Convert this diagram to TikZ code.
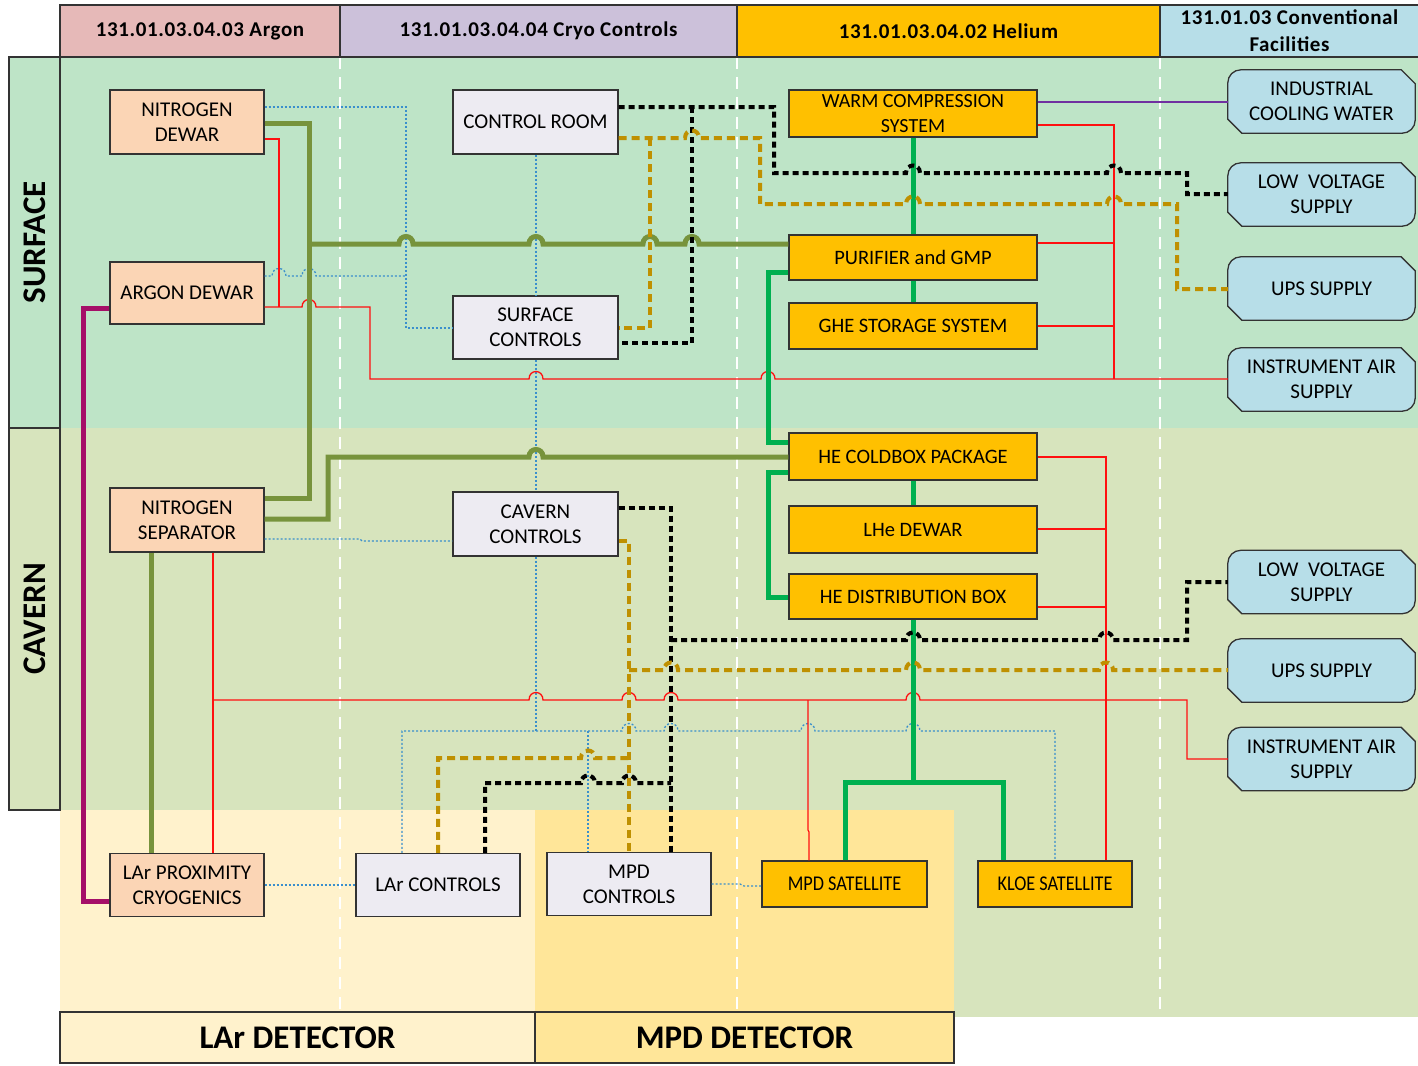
\documentclass[tikz,border=0pt]{standalone}
\usepackage{fontspec}
\setmainfont{Carlito}
\usetikzlibrary{calc}
\definecolor{argc}{HTML}{E6B9B8}
\definecolor{cryc}{HTML}{CCC1DA}
\definecolor{hec}{HTML}{FFC000}
\definecolor{convc}{HTML}{B7DEE8}
\definecolor{surfc}{HTML}{BEE4C7}
\definecolor{cavc}{HTML}{D7E4BD}
\definecolor{larc}{HTML}{FFF2CC}
\definecolor{mpdc}{HTML}{FFE699}
\definecolor{peachc}{HTML}{FBD5B5}
\definecolor{ctlc}{HTML}{EDEBF2}
\definecolor{olivec}{HTML}{77933C}
\definecolor{grnc}{HTML}{00B050}
\definecolor{magc}{HTML}{A50F68}
\definecolor{goldc}{HTML}{BF9000}
\definecolor{redc}{HTML}{FF1010}
\definecolor{bluec}{HTML}{3A8FCC}
\definecolor{purpc}{HTML}{7030A0}
\definecolor{edgec}{HTML}{333333}
\pgfdeclarelayer{back}
\pgfdeclarelayer{mid}
\pgfsetlayers{back,mid,main}
\newcommand\boxfont{\fontsize{21}{25}\selectfont}
\newcommand\hopr[2]{-- ({#1-7},#2) .. controls ({#1-7},{#2-10}) and ({#1+7},{#2-10}) .. ({#1+7},#2)}
\newcommand\supshape[1]{\draw[supply] ([xshift=14pt]#1.south west) -- ([yshift=14pt]#1.south west) [rounded corners=13pt] -- (#1.north west) [sharp corners] -- ([xshift=-14pt]#1.north east) -- ([yshift=-14pt]#1.north east) [rounded corners=13pt] -- (#1.south east) [sharp corners] -- cycle;}
\tikzset{
  box/.style={draw=edgec, line width=1.3pt, inner sep=0pt, align=center, font=\boxfont},
  argbox/.style={box, fill=peachc, minimum width=154pt, minimum height=63pt},
  ctlbox/.style={box, fill=ctlc, minimum width=165pt, minimum height=63pt},
  hebox/.style={box, fill=hec, minimum width=248pt, minimum height=46pt},
  satbox/.style={box, fill=hec, minimum height=46pt, font={\fontsize{21}{25}\selectfont\addfontfeature{FakeStretch=0.87}}},
  suptext/.style={inner sep=0pt, minimum width=187pt, minimum height=63pt, align=center, font=\boxfont},
  supply/.style={draw=edgec, line width=1.3pt, fill=convc},
  hdr/.style={draw=edgec, line width=1.3pt, minimum height=52pt, inner sep=0pt, align=center,
    font={\bfseries\fontsize{21}{27}\selectfont\addfontfeature{LetterSpace=3}}},
  side/.style={draw=edgec, line width=1.3pt, minimum height=51pt, inner sep=0pt,
    font={\bfseries\fontsize{33}{36}\selectfont}},
  bottomlbl/.style={draw=edgec, line width=1.3pt, minimum height=51pt, inner sep=0pt,
    font={\bfseries\fontsize{33}{36}\selectfont}},
  divider/.style={draw=white, line width=1.5pt, dash pattern=on 12pt off 8pt},
  olive/.style={draw=olivec, line width=5pt},
  grn/.style={draw=grnc, line width=5pt},
  mag/.style={draw=magc, line width=5pt},
  redline/.style={draw=redc, line width=1.3pt},
  bluedot/.style={draw=bluec, line width=1.3pt, dash pattern=on 2pt off 2pt},
  blk/.style={draw=black, line width=4pt, dash pattern=on 6pt off 4pt},
  gold/.style={draw=goldc, line width=4pt, dash pattern=on 8pt off 5pt},
  purp/.style={draw=purpc, line width=1.2pt}
}
\begin{document}
\begin{tikzpicture}[x=1pt,y=-1pt]
\useasboundingbox (0,0) rectangle (1418,1065);
\begin{pgfonlayer}{back}
  \fill[white] (0,0) rectangle (1418,1065);
  \fill[surfc] (60,57) rectangle (1418,428);
  \fill[cavc] (60,428) rectangle (1418,1017);
  \fill[larc] (60,810) rectangle (535,1012);
  \fill[mpdc] (535,810) rectangle (954,1012);
  \draw[divider] (340,57) -- (340,1010);
  \draw[divider] (737,57) -- (737,1010);
  \draw[divider] (1160,57) -- (1160,1017);
\end{pgfonlayer}

% headers
\node[hdr, fill=argc, minimum width=280pt] (h1) at (200,31) {131.01.03.04.03 Argon};
\node[hdr, fill=cryc, minimum width=397pt] (h2) at (538.5,31) {131.01.03.04.04 Cryo Controls};
\node[hdr, fill=hec, minimum width=423pt] (h3) at (948.5,31) {131.01.03.04.02 Helium};
\node[hdr, fill=convc, minimum width=259pt] (h4) at (1289.5,31) {131.01.03 Conventional\\Facilities};

% side labels
\node[side, fill=surfc, minimum width=371pt, rotate=90] (sl) at (34.5,242.5) {SURFACE};
\node[side, fill=cavc, minimum width=382pt, rotate=90] (cl) at (34.5,619) {CAVERN};

% bottom labels
\node[bottomlbl, fill=larc, minimum width=475pt] (bl1) at (297.5,1037.5) {LAr DETECTOR};
\node[bottomlbl, fill=mpdc, minimum width=419pt] (bl2) at (744.5,1037.5) {MPD DETECTOR};

% argon boxes
\node[argbox, minimum height=64pt] (nd) at (187,122) {NITROGEN\\DEWAR};
\node[argbox, minimum height=62pt] (ad) at (187,293) {ARGON DEWAR};
\node[argbox, minimum height=64pt] (ns) at (187,520) {NITROGEN\\SEPARATOR};
\node[argbox] (lp) at (187,885) {LAr PROXIMITY\\CRYOGENICS};

% control boxes
\node[ctlbox, minimum height=64pt] (cr) at (535.5,122) {CONTROL ROOM};
\node[ctlbox] (sc) at (535.5,327.5) {SURFACE\\CONTROLS};
\node[ctlbox, minimum height=64pt] (cc) at (535.5,524) {CAVERN\\CONTROLS};
\node[ctlbox, minimum width=164pt] (lc) at (438,885) {LAr CONTROLS};
\node[ctlbox, minimum width=164pt] (mc) at (629,884) {MPD\\CONTROLS};

% helium boxes
\node[hebox, minimum height=47pt] (wc) at (913,113.5) {};
\node[inner sep=0pt, align=center, font=\fontsize{20}{25}\selectfont] (wct) at (wc.center) {WARM COMPRESSION\\SYSTEM};
\node[hebox, minimum height=45pt, font=\fontsize{20.5}{25}\selectfont] (pg) at (913,257.5) {PURIFIER and GMP};
\node[hebox, font=\fontsize{20.5}{25}\selectfont] (gs) at (913,326) {GHE STORAGE SYSTEM};
\node[hebox, minimum height=47pt, font=\fontsize{20.5}{25}\selectfont] (hc) at (913,456.5) {HE COLDBOX PACKAGE};
\node[hebox, minimum height=47pt, font=\fontsize{20.5}{25}\selectfont] (ld) at (913,529.5) {LHe DEWAR};
\node[hebox, minimum height=45pt, font=\fontsize{20.5}{25}\selectfont] (hd) at (913,596.5) {HE DISTRIBUTION BOX};
\node[satbox, minimum width=165pt] (ms) at (844.5,884) {MPD SATELLITE};
\node[satbox, minimum width=154pt] (ks) at (1055,884) {KLOE SATELLITE};

% supplies
\node[suptext] (icw) at (1321.5,101.5) {INDUSTRIAL\\COOLING WATER};
\node[suptext] (lv1) at (1321.5,194.5) {LOW~ VOLTAGE\\SUPPLY};
\node[suptext] (ups1) at (1321.5,288.5) {UPS SUPPLY};
\node[suptext] (ia1) at (1321.5,379.5) {INSTRUMENT AIR\\SUPPLY};
\node[suptext] (lv2) at (1321.5,582) {LOW~ VOLTAGE\\SUPPLY};
\node[suptext] (ups2) at (1321.5,670.5) {UPS SUPPLY};
\node[suptext] (ia2) at (1321.5,759) {INSTRUMENT AIR\\SUPPLY};
\begin{pgfonlayer}{mid}
  \supshape{icw}
  \supshape{lv1}
  \supshape{ups1}
  \supshape{ia1}
  \supshape{lv2}
  \supshape{ups2}
  \supshape{ia2}
\end{pgfonlayer}

% blue dotted
\draw[bluedot] (nd.east |- 0,107) -- (406,107) -- (406,328) -- (sc.west |- 0,328);
\draw[bluedot] (ad.east |- 0,276) \hopr{279}{276} \hopr{309}{276} -- (406,276);
\draw[bluedot] (cr.south -| 536,0) -- (sc.north -| 536,0);
\draw[bluedot] (sc.south -| 536,0) -- (cc.north -| 536,0);
\draw[bluedot] (ns.east |- 0,539) -- (360,539) -- (362,541) -- (cc.west |- 0,541);
\draw[bluedot] (cc.south -| 536,0) -- (536,731);
\draw[bluedot] (lc.north -| 402,0) -- (402,731) \hopr{629}{731} \hopr{671}{731} \hopr{808}{731} \hopr{913}{731} -- (1055,731) -- (ks.north -| 1055,0);
\draw[bluedot] (588,731) -- (mc.north -| 588,0);
\draw[bluedot] (lp.east |- 0,885) -- (lc.west |- 0,885);
\draw[bluedot] (mc.east |- 0,884) -- (740,884) -- (744,886) -- (ms.west |- 0,886);

% red
\draw[redline] (nd.east |- 0,139) -- (279,139) -- (279,307);
\draw[redline] (ad.east |- 0,307) \hopr{309}{307} -- (370,307) -- (370,379) \hopr{536}{379} \hopr{768}{379} -- (ia1.west |- 0,379);
\draw[redline] (wc.east |- 0,125) -- (1114,125) -- (1114,379);
\draw[redline] (pg.east |- 0,243) -- (1114,243);
\draw[redline] (gs.east |- 0,326) -- (1114,326);
\draw[redline] (hc.east |- 0,457) -- (1106,457) -- (ks.north -| 1106,0);
\draw[redline] (ld.east |- 0,529) -- (1106,529);
\draw[redline] (hd.east |- 0,607) -- (1106,607);
\draw[redline] (ns.south -| 213,0) -- (lp.north -| 213,0);
\draw[redline] (213,700) \hopr{536}{700} \hopr{629}{700} \hopr{671}{700} \hopr{913}{700} -- (1187,700) -- (1187,759) -- (ia2.west |- 0,759);
\draw[redline] (808,700) -- (808,830) -- (809,832) -- (ms.north -| 809,0);

% purple
\draw[purp] (wc.east |- 0,102) -- (icw.west |- 0,102);

% olive
\draw[olive] (nd.east |- 0,123) -- (309,123) -- (309,498) -- (ns.east |- 0,498);
\draw[olive] (309,244) \hopr{406}{244} \hopr{536}{244} \hopr{650}{244} \hopr{692}{244} -- (pg.west |- 0,244);
\draw[olive] (ns.east |- 0,519) -- (328,519) -- (328,457) \hopr{536}{457} -- (hc.west |- 0,457);
\draw[olive] (ns.south -| 151,0) -- (lp.north -| 151,0);

% magenta
\draw[mag] (ad.west |- 0,308) -- (83,308) -- (83,901) -- (lp.west |- 0,901);

% bright green
\draw[grn] (wc.south -| 913,0) -- (pg.north -| 913,0);
\draw[grn] (pg.south -| 913,0) -- (gs.north -| 913,0);
\draw[grn] (pg.west |- 0,272) -- (768,272) -- (768,442) -- (hc.west |- 0,442);
\draw[grn] (hc.south -| 913,0) -- (ld.north -| 913,0);
\draw[grn] (hc.west |- 0,472) -- (768,472) -- (768,597) -- (hd.west |- 0,597);
\draw[grn] (hd.south -| 913,0) -- (913,782);
\draw[grn] (ms.north -| 845,0) -- (845,782) -- (1003,782) -- (ks.north -| 1003,0);

% black dashed
\draw[blk] (cr.east |- 0,107) -- (774,107) -- (774,173) \hopr{913}{173} \hopr{1114}{173} -- (1187,173) -- (1187,194) -- (lv1.west |- 0,194);
\draw[blk] (692,107) -- (692,343) -- (sc.east |- 0,343);
\draw[blk] (cc.east |- 0,508) -- (671,508) -- (mc.north -| 671,0);
\draw[blk] (671,640) \hopr{913}{640} \hopr{1106}{640} -- (1187,640) -- (1187,582) -- (lv2.west |- 0,582);
\draw[blk] (lc.north -| 485,0) -- (485,783) \hopr{588}{783} \hopr{629}{783} -- (671,783);

% gold dashed
\draw[gold] (cr.east |- 0,138) \hopr{692}{138} -- (760,138) -- (760,204) \hopr{913}{204} \hopr{1114}{204} -- (1177,204) -- (1177,289) -- (ups1.west |- 0,289);
\draw[gold] (650,138) -- (650,328) -- (sc.east |- 0,328);
\draw[gold] (cc.east |- 0,541) -- (629,541) -- (mc.north -| 629,0);
\draw[gold] (629,670) \hopr{671}{670} \hopr{913}{670} \hopr{1106}{670} -- (ups2.west |- 0,670);
\draw[gold] (lc.north -| 438,0) -- (438,758) \hopr{588}{758} -- (629,758);
\end{tikzpicture}
\end{document}
